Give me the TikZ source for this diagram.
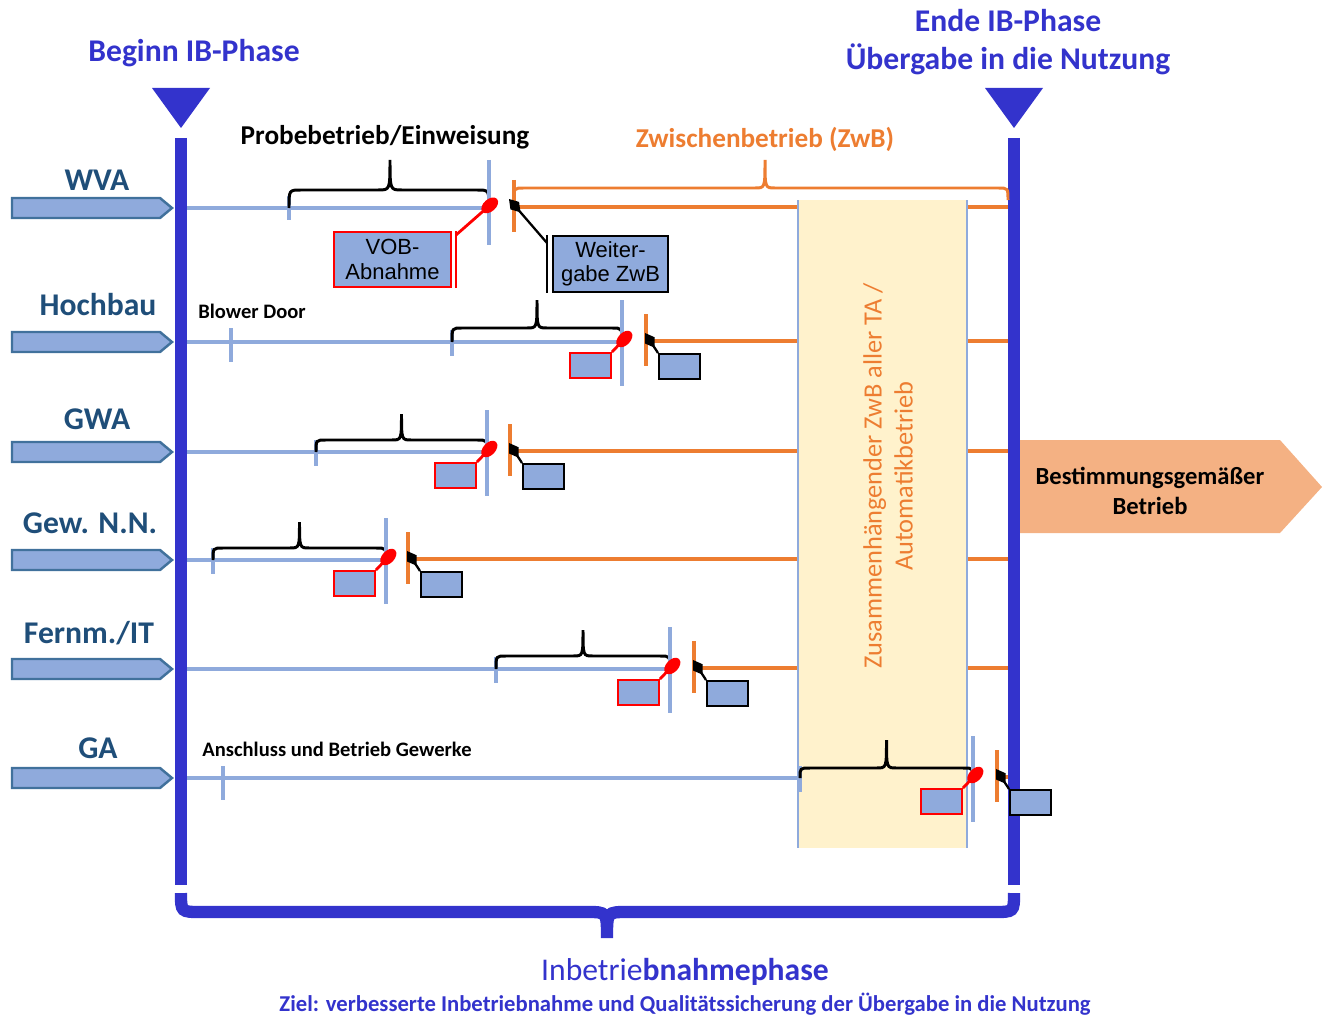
\documentclass[tikz,border=0pt]{standalone}
\usepackage{fontspec}
\setmainfont{Carlito}
\newfontfamily\boxfont{Liberation Sans}
\usetikzlibrary{calc}
\usetikzlibrary{positioning}
\usetikzlibrary{arrows.meta}

\definecolor{ibblue}{HTML}{3333CC}
\definecolor{lineblue}{HTML}{8FAADC}
\definecolor{frameblue}{HTML}{41719C}
\definecolor{labelblue}{HTML}{1F4E79}
\definecolor{zwborange}{HTML}{ED7D31}
\definecolor{autoyellow}{HTML}{FFF2CC}
\definecolor{peach}{HTML}{F4B183}

% brace: style, x1, x of tip, x2, y of ends, y of bar, y of tip, corner
\newcommand{\ibbrace}[8]{%
  \draw[#1] (#2,#5) .. controls (#2,#6) .. (#2+#8,#6)
    -- ({#3-#8},#6) .. controls ({#3},#6) .. ({#3},#7)
    .. controls ({#3},#6) .. ({#3+#8},#6)
    -- (#4-#8,#6) .. controls (#4,#6) .. (#4,#5);}

\tikzset{
  phase/.style={text=ibblue, inner sep=0pt, align=center,
    font=\fontsize{18}{21.5}\selectfont\bfseries},
  rowlabel/.style={text=labelblue, inner sep=0pt,
    font=\fontsize{18}{21}\selectfont\bfseries},
  steplabel/.style={inner sep=0pt, font=\fontsize{15.5}{18}\selectfont\bfseries},
  smalllabel/.style={inner sep=0pt, font=\fontsize{11.7}{13}\selectfont\bfseries},
  ibbar/.style={ibblue, line width=6.8pt},
  rowarrow/.style={fill=lineblue, draw=frameblue, line width=1.4pt},
  rowline/.style={lineblue, line width=2.3pt},
  tick/.style={lineblue, line width=2.2pt},
  zwbline/.style={zwborange, line width=2.3pt},
  zwbtick/.style={zwborange, line width=2.2pt},
  brace/.style={black, line width=1.7pt},
  zwbbrace/.style={zwborange, line width=1.7pt},
  bigbrace/.style={ibblue, line width=7pt},
  vobbox/.style={draw=red, fill=lineblue, line width=1.1pt, inner sep=0pt,
    minimum width=2.34cm, minimum height=1.1cm, align=center,
    font=\boxfont\fontsize{12.5}{14}\selectfont},
  zwbbox/.style={vobbox, draw=black, minimum width=2.3cm, minimum height=1.12cm},
  vobsmall/.style={draw=red, fill=lineblue, line width=1.1pt, inner sep=0pt,
    minimum width=0.82cm, minimum height=0.5cm},
  zwbsmall/.style={vobsmall, draw=black},
  pinred/.style={red, line width=1.6pt, -{Ellipse[length=11pt,width=7pt]}},
  pinblack/.style={black, line width=1.3pt, -{Kite[length=10pt,width=6.5pt,inset=5pt]}},
}

\begin{document}
\begin{tikzpicture}[x=0.02cm, y=-0.02cm]

  \useasboundingbox (0,0) rectangle (1326,1017);

  % row lines
  \foreach \yr/\xv/\xz in {208/489/514, 342/622/646, 452/487/510,
                           560/386/408, 669/670/694, 778/800/997} {
    \draw[rowline] (187,\yr) -- (\xv,\yr);
    \draw[zwbline] (\xz,\yr-1) -- (1008,\yr-1);
  }

  % Automatikbetrieb
  \fill[autoyellow] (798,200) rectangle (967,848);
  \draw[lineblue, line width=1.2pt] (798,200) -- (798,848) (967,200) -- (967,848);
  \node[text=zwborange, rotate=90, align=center, inner sep=0pt,
    font=\fontsize{15}{17.6}\selectfont] (auto) at (888,476)
    {Zusammenhängender ZwB aller TA /\\Automatikbetrieb};

  % IB-Phase
  \fill[ibblue] (152,88) -- (210,88) -- (181,128) -- cycle;
  \fill[ibblue] (985,88) -- (1043,88) -- (1014,128) -- cycle;
  \draw[ibbar] (181,138) -- (181,885);
  \draw[ibbar] (1014,138) -- (1014,885);
  \node[phase] (beginn) at (194,53) {Beginn IB-Phase};
  \node[phase] (ende) at (1008,42) {Ende IB-Phase\\Übergabe in die Nutzung};

  % rows
  \foreach \yr/\xl/\dl/\name in {208/97/28/WVA, 342/98/37/Hochbau, 452/97/33/GWA,
                                 560/90/37/{Gew. N.N.}, 669/89/36/{Fernm./IT}, 778/98/30/GA} {
    \draw[rowarrow] (12,\yr-10) -- (160,\yr-10) -- (172,\yr) -- (160,\yr+10)
      -- (12,\yr+10) -- cycle;
    \node[rowlabel] at (\xl,\yr-\dl) {\name};
  }

  % WVA
  \draw[tick] (289,196) -- (289,220);
  \ibbrace{brace}{289}{390}{489}{208}{190}{160}{12}
  \draw[tick] (489,160) -- (489,245);
  \draw[zwbtick] (514,180) -- (514,232);
  \ibbrace{zwbbrace}{514}{765}{1008}{200}{188}{160}{10}
  \node[steplabel] (probe) at (385,137) {Probebetrieb/Einweisung};
  \node[steplabel, text=zwborange] (zwb) at (765,139) {Zwischenbetrieb (ZwB)};
  \node[vobbox] (vob) at (392.5,259.5) {VOB-\\Abnahme};
  \node[zwbbox] (weitergabe) at (610.5,264) {Weiter-\\gabe ZwB};
  \draw[red, line width=1.6pt] ($(vob.north east)+(4,0)$) -- ($(vob.south east)+(4,0)$);
  \draw[black, line width=1.6pt] ($(weitergabe.north west)+(-5,0)$)
    -- ($(weitergabe.south west)+(-5,0)$);
  \coordinate (vobend) at (497,199);
  \coordinate (zwbend) at (509,199);
  \draw[pinred] ($(vob.north east)+(4,4)$) -- (vobend);
  \draw[pinblack] ($(weitergabe.north west)+(-5,8)$) -- (zwbend);

  % Hochbau, GWA, Gew. N.N., Fernm./IT, GA
  \foreach \yr/\xs/\xv/\xz/\db/\dt [count=\nr] in {342/452/622/646/14/42,
      452/316/487/510/12/38, 560/213/386/408/12/38,
      669/496/670/694/13/39, 778/800/973/997/10/38} {
    \draw[tick] (\xs,\yr-12) -- (\xs,\yr+14);
    \ibbrace{brace}{\xs}{(\xs+\xv)/2}{\xv}{\yr}{\yr-\db}{\yr-\dt}{10}
    \draw[tick] (\xv,\yr-42) -- (\xv,\yr+44);
    \draw[zwbtick] (\xz,\yr-28) -- (\xz,\yr+24);
    \node[vobsmall] (vob\nr) at (\xv-31.5,\yr+23.5) {};
    \node[zwbsmall] (zwb\nr) at (\xz+33.5,\yr+24.5) {};
    \coordinate (vobend\nr) at (\xv+9,\yr-10);
    \coordinate (zwbend\nr) at (\xz-1,\yr-9);
    \draw[pinred] (vob\nr.north east) -- (vobend\nr);
    \draw[pinblack] (zwb\nr.north west) -- (zwbend\nr);
  }

  \draw[tick] (231,328) -- (231,362);
  \node[smalllabel] (blower) at (252,311) {Blower Door};
  \draw[tick] (223,766) -- (223,800);
  \node[smalllabel] (anschluss) at (337,749) {Anschluss und Betrieb Gewerke};

  % Bestimmungsgemaesser Betrieb
  \fill[peach] (1020,440) -- (1280,440) -- (1322,487) -- (1280,533) -- (1020,533) -- cycle;
  \node[align=center, inner sep=0pt, font=\fontsize{14}{17}\selectfont\bfseries]
    (betrieb) at (1150,491) {Bestimmungsgemäßer\\Betrieb};

  % Inbetriebnahmephase
  \ibbrace{bigbrace}{181}{607}{1014}{893}{912}{938}{20}
  \node[phase] (phase) at (685,972) {{\mdseries Inbetrie}bnahmephase};
  \node[phase, font=\fontsize{12.9}{14}\selectfont\bfseries] (ziel) at (685,1004)
    {Ziel: verbesserte Inbetriebnahme und Qualitätssicherung der Übergabe in die Nutzung};

\end{tikzpicture}
\end{document}
